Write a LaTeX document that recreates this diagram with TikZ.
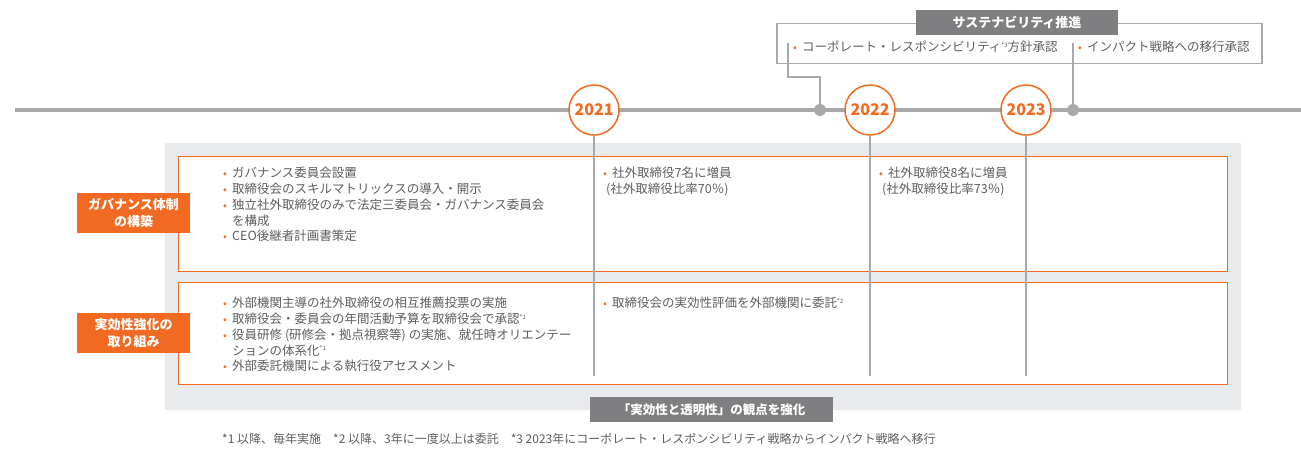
\documentclass[tikz,border=0pt]{standalone}
\usepackage{fontspec}
\setmainfont{Noto Sans CJK JP}
\definecolor{ora}{HTML}{F26A21}
\definecolor{tgray}{HTML}{5E5E5E}
\definecolor{lgray}{HTML}{A8A9AB}
\definecolor{panel}{HTML}{E9EAEC}
\definecolor{dgray}{HTML}{7F7F82}
\newcommand\bul{\makebox[9pt][l]{\textcolor{ora}{\fontsize{11}{11}\selectfont •}}}
\newcommand\ind{\hspace*{9pt}}
\newcommand\sups[1]{\raisebox{4.5pt}{\fontsize{6}{6}\selectfont #1}}
\begin{document}
\begin{tikzpicture}[x=1pt,y=-1pt,
 txt/.style={font=\fontsize{12.5}{15.8}\selectfont, text=tgray, align=left, inner sep=0pt, anchor=north west},
 orabox/.style={draw=ora, line width=1.3pt, fill=white, anchor=north west, inner sep=0pt, minimum width=1049pt},
 tag/.style={fill=ora, text=white, font=\fontsize{13}{17}\selectfont\bfseries, align=center, minimum width=113pt, minimum height=40pt, inner sep=0pt},
 dtag/.style={fill=dgray, text=white, font=\fontsize{12.5}{15}\selectfont\bfseries, inner sep=0pt},
 year/.style={circle, draw=ora, line width=1.5pt, fill=white, minimum size=50pt, inner sep=0pt, text=ora, font=\fontsize{16}{16}\selectfont\bfseries},
 vline/.style={draw=lgray, line width=2pt},
 conn/.style={draw=lgray, line width=1.3pt},
 dot/.style={circle, fill=lgray, minimum size=12pt, inner sep=0pt}]
\useasboundingbox (0,0) rectangle (1301,462);

% timeline
\coordinate (tl0) at (15,110);
\coordinate (tl1) at (1301,110);
\draw[lgray, line width=4pt] (tl0) -- (tl1);

% panel and boxes
\node[fill=panel, anchor=north west, inner sep=0pt, minimum width=1076pt, minimum height=267pt] (panel) at (165,143) {};
\node[orabox, minimum height=115pt] (box1) at (178,156) {};
\node[orabox, minimum height=102pt] (box2) at (178,282) {};

% sustainability box
\node[draw=lgray, line width=1.5pt, anchor=north west, inner sep=0pt, minimum width=485pt, minimum height=40pt] (sbox) at (776,23) {};
\node[dtag, font=\fontsize{13}{15}\selectfont\bfseries, minimum width=202pt, minimum height=25pt] (stitle) at (1017,22.5) {サステナビリティ推進};
\node[txt, anchor=west] (s1) at (793,47) {\bul コーポレート・レスポンシビリティ\sups{*3}方針承認};
\node[txt, anchor=west] (s2) at (1078,47) {\bul インパクト戦略への移行承認};

% year circles and dots
\node[year] (y21) at (594,110) {2021};
\node[year] (y22) at (870,110) {2022};
\node[year] (y23) at (1026,110) {2023};
\node[dot] (d1) at (820,110) {};
\node[dot] (d2) at (1073,110) {};

\coordinate (c1) at (788,43);
\coordinate (c1b) at (788,77);
\coordinate (c2) at (1073,43);
\draw[conn] (c1) -- (c1b) -| (d1);
\draw[conn] (c2) -- (d2);

% vertical year lines
\coordinate (e21) at (594,376);
\coordinate (e22) at (870,376);
\coordinate (e23) at (1026,376);
\draw[vline] (y21.south) -- (e21);
\draw[vline] (y22.south) -- (e22);
\draw[vline] (y23.south) -- (e23);

% left tags
\node[tag] (t1) at (133.5,213) {ガバナンス体制\\の構築};
\node[tag] (t2) at (133.5,333) {実効性強化の\\取り組み};

% texts row 1
\node[txt] (r1a) at (223,167) {\bul ガバナンス委員会設置\\
\bul 取締役会のスキルマトリックスの導入・開示\\
\bul 独立社外取締役のみで法定三委員会・ガバナンス委員会\\
\ind を構成\\
\bul CEO後継者計画書策定};
\node[txt] (r1b) at (603,167) {\bul 社外取締役7名に増員\\
\hspace*{3pt}(社外取締役比率70％)};
\node[txt] (r1c) at (879,167) {\bul 社外取締役8名に増員\\
\hspace*{3pt}(社外取締役比率73％)};

% texts row 2
\node[txt] (r2a) at (223,297) {\bul 外部機関主導の社外取締役の相互推薦投票の実施\\
\bul 取締役会・委員会の年間活動予算を取締役会で承認\sups{*1}\\
\bul 役員研修 (研修会・拠点視察等) の実施、就任時オリエンテー\\
\ind ションの体系化\sups{*1}\\
\bul 外部委託機関による執行役アセスメント};
\node[txt] (r2b) at (603,297) {\bul 取締役会の実効性評価を外部機関に委託\sups{*2}};

% bottom tag
\node[dtag, minimum width=243pt, minimum height=25pt] (bt) at (711.5,409.5) {「実効性と透明性」の観点を強化};

% footnote
\node[anchor=west, text=tgray, font=\fontsize{12}{14}\selectfont, inner sep=0pt] (fn) at (222,439) {*1 以降、毎年実施\quad *2 以降、3年に一度以上は委託\quad *3 2023年にコーポレート・レスポンシビリティ戦略からインパクト戦略へ移行};
\end{tikzpicture}
\end{document}
